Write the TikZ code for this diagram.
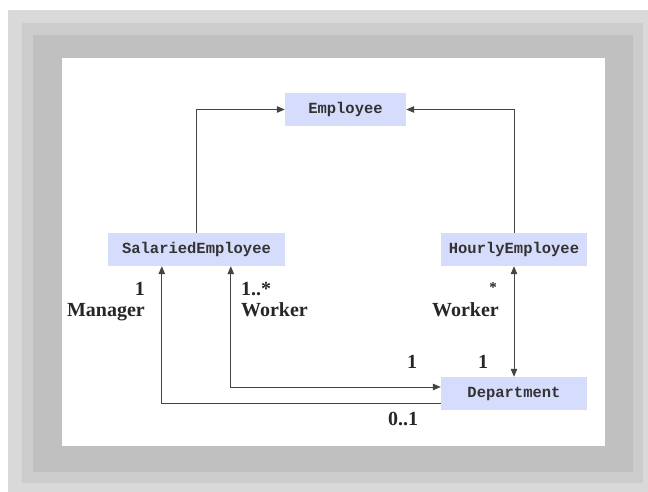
\documentclass[tikz,border=0pt]{standalone}
\usepackage{fontspec}
\setmainfont{Liberation Serif}
\setmonofont{Liberation Mono}
\usetikzlibrary{arrows.meta,calc}
\definecolor{bandA}{HTML}{D9D9D9}
\definecolor{bandB}{HTML}{CCCCCC}
\definecolor{bandC}{HTML}{C0C0C0}
\definecolor{boxfill}{HTML}{D6DCFB}
\definecolor{linec}{HTML}{444444}
\definecolor{boxtext}{HTML}{333333}
\tikzset{
  cls/.style={fill=boxfill, draw=none, inner sep=0pt, minimum height=33pt,
    font=\ttfamily\bfseries\fontsize{15.5}{18}\selectfont, text=boxtext},
  conn/.style={draw=linec, line width=1pt},
  tip/.style={-{Triangle[length=8pt,width=6.5pt]}},
  tips/.style={{Triangle[length=8pt,width=6.5pt]}-{Triangle[length=8pt,width=6.5pt]}},
  lbl/.style={inner sep=0pt, font=\bfseries\fontsize{20}{23}\selectfont, text=black!85}
}
\begin{document}
\begin{tikzpicture}[x=1pt,y=-1pt]
\useasboundingbox (0,0) rectangle (648,492);
\fill[white] (0,0) rectangle (648,492);
\fill[bandA] (8,10) rectangle (648,492);
\fill[bandB] (22,23) rectangle (643,483);
\fill[bandC] (33,35) rectangle (633,472);
\fill[white] (62,58) rectangle (605,446);

\node[cls, minimum width=121pt] (emp) at (345.5,109.5) {Employee};
\node[cls, minimum width=177pt] (sal) at (196.5,249.5) {SalariedEmployee};
\node[cls, minimum width=146pt] (hour) at (514,249.5) {HourlyEmployee};
\node[cls, minimum width=146pt] (dep) at (514,393.5) {Department};

\draw[conn,tip] (sal.north) |- (emp.west);
\draw[conn,tip] (hour.north) |- (emp.east);
\draw[conn,tips] (hour.south) -- (dep.north);
\draw[conn,tip] ($(dep.west)+(0,9.5)$) -| ($(sal.south west)+(54,0)$);
\draw[conn,tips] ($(sal.south west)+(123,0)$) |- ($(dep.west)+(0,-6.5)$);

\node[lbl, anchor=base east] (l1) at (145,295) {1};
\node[lbl, anchor=base east] (lmgr) at (145,316) {Manager};
\node[lbl, anchor=base west] (l2) at (241,295) {1..*};
\node[lbl, anchor=base west] (lw1) at (241,316) {Worker};
\node[lbl, anchor=base east, font=\bfseries\fontsize{15}{18}\selectfont] (l3) at (497,292) {*};
\node[lbl, anchor=base east] (lw2) at (499,316) {Worker};
\node[lbl, anchor=base] (l4) at (412,368) {1};
\node[lbl, anchor=base] (l5) at (483,368) {1};
\node[lbl, anchor=base] (l6) at (403,425) {0..1};
\end{tikzpicture}
\end{document}
